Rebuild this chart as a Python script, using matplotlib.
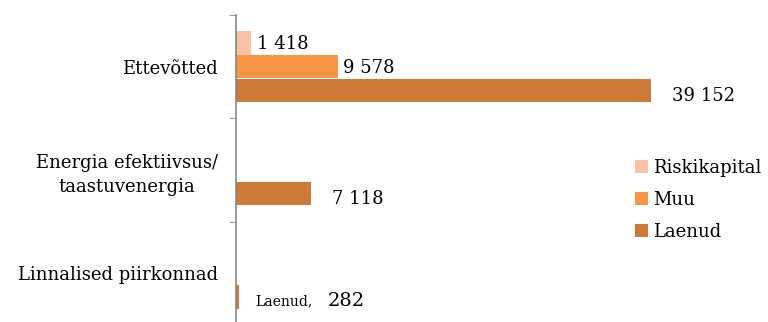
import matplotlib
matplotlib.use("Agg")
import matplotlib.pyplot as plt
import numpy as np

# andmed
categories = ["Ettevõtted", "Energia efektiivsus/\ntaastuvenergia", "Linnalised piirkonnad"]
series = ["Riskikapital", "Muu", "Laenud"]
riskikapital = [1418, 0, 0]
muu = [9578, 0, 0]
laenud = [39152, 7118, 282]
colors = ["#F9C2A7", "#F79646", "#CC7A3A"]

plt.rcParams["font.family"] = ["DejaVu Serif"]

fig = plt.figure(figsize=(7.68, 3.22), dpi=100)
ax = fig.add_axes([236 / 768, -0.0093, 530 / 768, 0.9627])

y = np.arange(len(categories))
h = 0.225
offsets = [-0.228, 0, 0.228]
values = [riskikapital, muu, laenud]

def fmt(v):
    return f"{v:,}".replace(",", " ")

for i, (name, vals, c) in enumerate(zip(series, values, colors)):
    ax.barh(y + offsets[i], vals, height=h, color=c, label=name)
    for j, v in enumerate(vals):
        if v == 0:
            continue
        yy = y[j] + offsets[i]
        if name == "Laenud" and j == 2:
            ax.annotate("Laenud,", (v, yy), xytext=(12, -3), textcoords="offset points",
                        ha="left", va="center", fontsize=10)
            ax.annotate(fmt(v), (v, yy), xytext=(64, -3), textcoords="offset points",
                        ha="left", va="center", fontsize=14)
        elif name == "Laenud":
            ax.annotate(fmt(v), (v, yy), xytext=(15, -4), textcoords="offset points",
                        ha="left", va="center", fontsize=13)
        else:
            ax.annotate(fmt(v), (v, yy), xytext=(4, -1), textcoords="offset points",
                        ha="left", va="center", fontsize=13)

ax.set_xlim(0, 50000)
ax.set_ylim(2.5, -0.5)

ax.set_yticks(y)
ax.set_yticklabels(categories, fontsize=13)
for lab in ax.get_yticklabels():
    lab.set_multialignment("center")
    lab.set_linespacing(1.45)
ax.tick_params(axis="y", which="major", length=0, pad=13)
ax.set_yticks([-0.5, 0.5, 1.5], minor=True)
ax.tick_params(axis="y", which="minor", length=5, color="#868686", direction="out")
ax.set_xticks([])

for s in ["top", "right", "bottom"]:
    ax.spines[s].set_visible(False)
ax.spines["left"].set_color("#868686")
ax.spines["left"].set_linewidth(1.2)

fig.legend(loc="center left", bbox_to_anchor=(628 / 768, 1 - 200 / 322), frameon=False,
           fontsize=13, handlelength=0.7, handleheight=0.7, handletextpad=0.3,
           labelspacing=0.78, borderaxespad=0)

fig.savefig("out.png", dpi=100)
